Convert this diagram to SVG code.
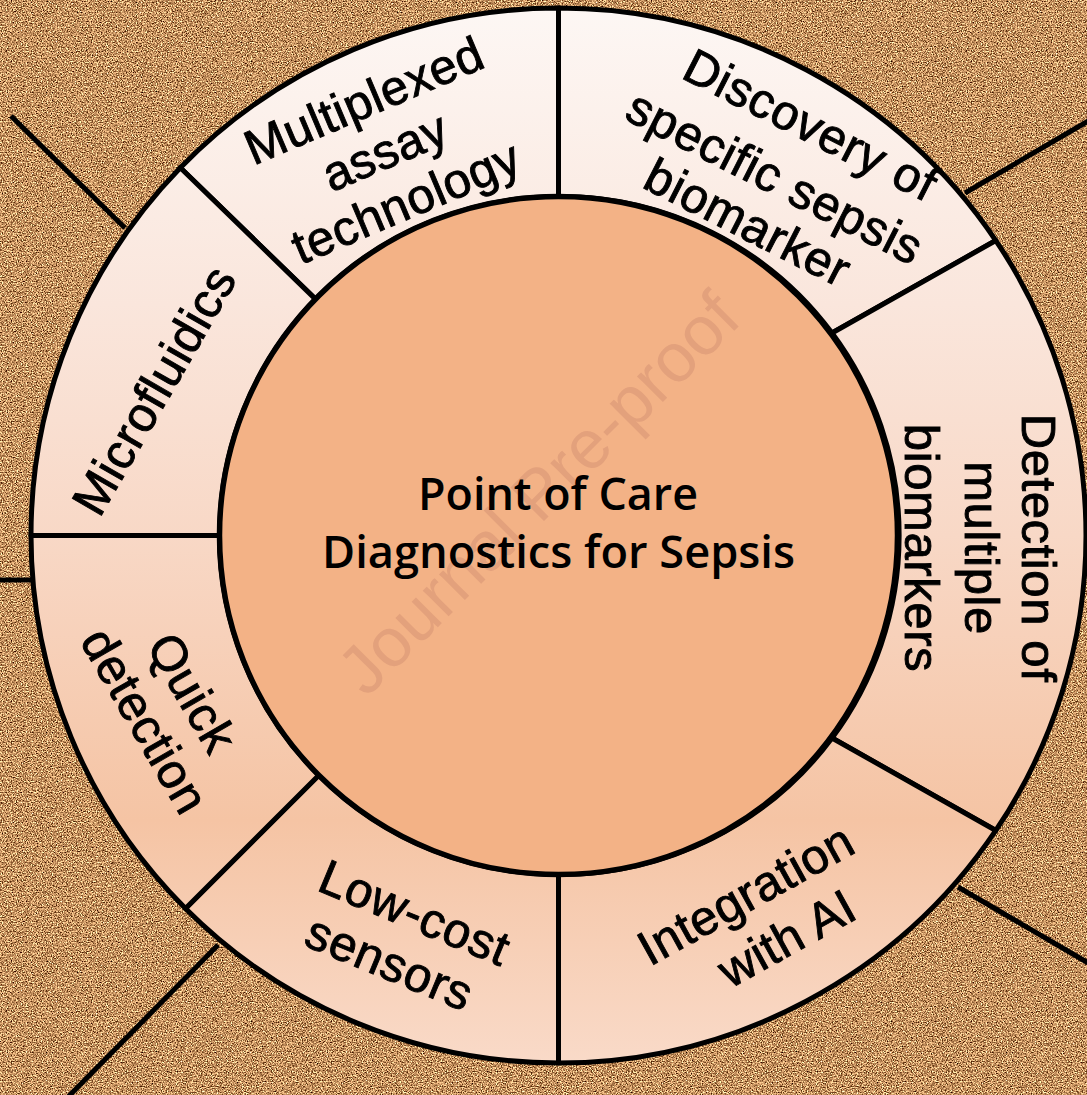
<svg xmlns="http://www.w3.org/2000/svg" width="1087" height="1095" viewBox="0 0 1087 1095">
  <defs>
    <filter id="cork" x="0" y="0" width="1" height="1" color-interpolation-filters="sRGB">
      <feTurbulence type="fractalNoise" baseFrequency="0.8" numOctaves="3" seed="7" result="n"/>
      <feColorMatrix in="n" type="matrix" values="1.8 0 0 0 -0.13  1.7 0 0 0 -0.28  1.45 0 0 0 -0.35  0 0 0 0 1"/>
    </filter>
    <linearGradient id="ringGrad" gradientUnits="userSpaceOnUse" x1="0" y1="8" x2="0" y2="1063">
      <stop offset="0" stop-color="#fdf7f4"/>
      <stop offset="0.28" stop-color="#fae6dc"/>
      <stop offset="0.5" stop-color="#f8d8c6"/>
      <stop offset="0.77" stop-color="#f5c4a4"/>
      <stop offset="1" stop-color="#f9dac8"/>
    </linearGradient>
    <style>
      .seg { fill: url(#ringGrad); stroke: #000; stroke-width: 5; stroke-linejoin: round; }
      .lbl { font-family: "Liberation Sans", Arial, sans-serif; font-size: 49px; fill: #000; stroke: #000; stroke-width: 0.9px; letter-spacing: 0.6px; text-anchor: middle; }
      .conn { stroke: #000; stroke-width: 5; fill: none; }
      .hub { fill: #f3b286; stroke: #000; stroke-width: 5.5; }
      .hubtxt { font-family: "Open Sans", "Noto Sans", sans-serif; font-weight: 600; font-size: 45px; fill: #000; text-anchor: middle; }
      .wm { font-family: "Liberation Sans", Arial, sans-serif; font-size: 69px; fill: #e3a17c; text-anchor: middle; }
    </style>
  </defs>

  <rect x="0" y="0" width="1087" height="1095" fill="#c2915d"/>
  <rect x="0" y="0" width="1087" height="1095" filter="url(#cork)"/>

  <g id="connectors">
    <line class="conn" x1="11" y1="116" x2="125" y2="228"/>
    <line class="conn" x1="-2" y1="580" x2="31" y2="580"/>
    <line class="conn" x1="218" y1="945" x2="68" y2="1097"/>
    <line class="conn" x1="965" y1="193" x2="1090" y2="120"/>
    <line class="conn" x1="958" y1="887" x2="1090" y2="964"/>
  </g>

  <g id="node-multiplexed">
    <path class="seg" d="M180.33,167.74 A527.5,527.5 0 0 1 558.5,8 L558.5,196.5 A339,339 0 0 0 315.47,299.16 Z"/>
    <text class="lbl" transform="translate(370.5,116) rotate(-23)">Multiplexed</text>
    <text class="lbl" transform="translate(391.5,166.8) rotate(-23)">assay</text>
    <text class="lbl" transform="translate(412.5,217.6) rotate(-23)">technology</text>
  </g>

  <g id="node-discovery">
    <path class="seg" d="M558.5,8 A527.5,527.5 0 0 1 995.82,240.53 L832,333 A339,339 0 0 0 558.5,196.5 Z"/>
    <text class="lbl" transform="translate(803,140) rotate(27)">Discovery of</text>
    <text class="lbl" transform="translate(767.5,192.1) rotate(27)">specific sepsis</text>
    <text class="lbl" transform="translate(740.3,237.5) rotate(27)">biomarker</text>
  </g>

  <g id="node-detection">
    <path class="seg" d="M995.82,240.53 A527.5,527.5 0 0 1 995.82,830.47 L832,738 A339,339 0 0 0 832,333 Z"/>
    <text class="lbl" transform="translate(1022,548) rotate(90)">Detection of</text>
    <text class="lbl" transform="translate(965,548) rotate(90)">multiple</text>
    <text class="lbl" transform="translate(905,548) rotate(90)">biomarkers</text>
  </g>

  <g id="node-integration">
    <path class="seg" d="M995.82,830.47 A527.5,527.5 0 0 1 558.5,1063 L558.5,874.5 A339,339 0 0 0 832,738 Z"/>
    <text class="lbl" transform="translate(754,909) rotate(-29)">Integration</text>
    <text class="lbl" transform="translate(795,953) rotate(-29)">with AI</text>
  </g>

  <g id="node-lowcost">
    <path class="seg" d="M558.5,1063 A527.5,527.5 0 0 1 185.5,908.5 L318.79,775.21 A339,339 0 0 0 558.5,874.5 Z"/>
    <text class="lbl" transform="translate(408.3,928.3) rotate(22.5)">Low-cost</text>
    <text class="lbl" transform="translate(383.3,978.3) rotate(22.5)">sensors</text>
  </g>

  <g id="node-quick">
    <path class="seg" d="M185.5,908.5 A527.5,527.5 0 0 1 31,535.5 L219.5,535.5 A339,339 0 0 0 318.79,775.21 Z"/>
    <text class="lbl" transform="translate(177.8,701.3) rotate(60)">Quick</text>
    <text class="lbl" transform="translate(130.4,729.3) rotate(60)">detection</text>
  </g>

  <g id="node-microfluidics">
    <path class="seg" d="M31,535.5 A527.5,527.5 0 0 1 180.33,167.74 L315.47,299.16 A339,339 0 0 0 219.5,535.5 Z"/>
    <text class="lbl" transform="translate(168.8,398.7) rotate(-60)">Microfluidics</text>
  </g>

  <g id="node-center">
    <circle class="hub" cx="558.5" cy="535.5" r="339"/>
    <text class="wm" transform="translate(555,510) rotate(-45)">Journal Pre-proof</text>
    <text class="hubtxt" x="558" y="510" textLength="280" lengthAdjust="spacingAndGlyphs">Point of Care</text>
    <text class="hubtxt" x="558.5" y="568" textLength="473" lengthAdjust="spacingAndGlyphs">Diagnostics for Sepsis</text>
  </g>
</svg>
